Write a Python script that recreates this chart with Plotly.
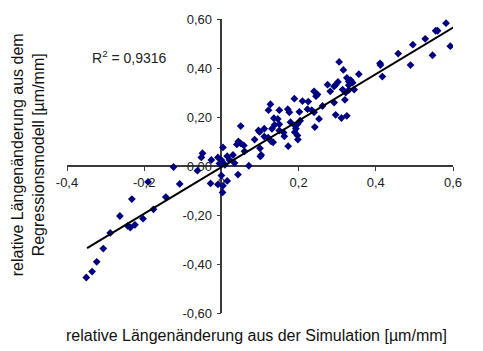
import plotly.graph_objects as go

# Simulation (x) vs. regression model (y), relative length change [µm/mm]
sim_x = [
    -0.350, -0.335, -0.323, -0.306, -0.288, -0.263, -0.243, -0.236, -0.224, -0.232,
    -0.203, -0.190, -0.176, -0.144, -0.124, -0.108,
    -0.062, -0.052, -0.049, -0.028, -0.026, -0.009, -0.009, -0.005, 0.000, 0.000,
    0.003, 0.003, 0.004, 0.004, 0.009, 0.015, 0.015, 0.021, 0.030, 0.034,
    0.040, 0.043, 0.044, 0.050, 0.050, 0.058, 0.060, 0.071, 0.086, 0.096,
    0.100, 0.101, 0.103, 0.099, 0.111, 0.111, 0.121, 0.122, 0.127, 0.129,
    0.131, 0.134, 0.136, 0.138, 0.146, 0.150, 0.150, 0.150, 0.161, 0.163,
    0.172, 0.173, 0.176, 0.179, 0.189, 0.190, 0.190, 0.193, 0.197, 0.198,
    0.198, 0.202, 0.204, 0.210, 0.223, 0.225, 0.234, 0.240, 0.240, 0.242,
    0.245, 0.249, 0.253, 0.262, 0.275, 0.282, 0.292, 0.292, 0.296, 0.296,
    0.302, 0.305, 0.311, 0.314, 0.316, 0.320, 0.322, 0.325, 0.325, 0.330,
    0.330, 0.330, 0.335, 0.340, 0.344, 0.356, 0.411, 0.412, 0.417, 0.458,
    0.490, 0.496, 0.528, 0.547, 0.555, 0.560, 0.582, 0.593,
]
model_y = [
    -0.455, -0.431, -0.391, -0.337, -0.273, -0.204, -0.244, -0.251, -0.240, -0.135,
    -0.215, -0.065, -0.177, -0.127, -0.004, -0.073,
    -0.019, 0.035, 0.052, -0.071, 0.025, 0.035, -0.075, 0.010, 0.024, -0.039,
    0.015, -0.108, 0.076, -0.081, 0.005, 0.040, -0.061, 0.025, 0.045, 0.012,
    0.088, -0.035, 0.100, 0.092, 0.163, 0.084, 0.060, 0.001, 0.108, 0.145,
    0.072, 0.039, 0.045, 0.139, 0.152, 0.120, 0.116, 0.228, 0.252, 0.101,
    0.152, 0.097, 0.195, 0.168, 0.192, 0.228, 0.170, 0.145, 0.137, 0.121,
    0.232, 0.081, 0.219, 0.179, 0.275, 0.165, 0.138, 0.152, 0.125, 0.172,
    0.108, 0.221, 0.185, 0.265, 0.232, 0.263, 0.228, 0.219, 0.305, 0.159,
    0.285, 0.292, 0.192, 0.245, 0.332, 0.305, 0.325, 0.259, 0.332, 0.209,
    0.343, 0.425, 0.196, 0.312, 0.392, 0.270, 0.300, 0.360, 0.205, 0.345,
    0.330, 0.310, 0.350, 0.340, 0.312, 0.375, 0.419, 0.412, 0.365, 0.459,
    0.412, 0.495, 0.519, 0.452, 0.552, 0.552, 0.583, 0.489,
]

# Linear trend line
trend_x = [-0.348, 0.603]
trend_slope = 0.95
trend_intercept = -0.005
trend_y = [trend_slope * v + trend_intercept for v in trend_x]
r2_text = "R<sup>2</sup> = 0,9316"

x_tickvals = [-0.4, -0.2, 0, 0.2, 0.4, 0.6]
x_ticktext = ["-0,4", "-0,2", "0", "0,2", "0,4", "0,6"]
y_tickvals = [-0.6, -0.4, -0.2, 0, 0.2, 0.4, 0.6]
y_ticktext = ["-0,60", "-0,40", "-0,20", "0,00", "0,20", "0,40", "0,60"]

x_title = "relative Längenänderung aus der Simulation [µm/mm]"
y_title = "relative Längenänderung aus dem<br>Regressionsmodell [µm/mm]"

FONT = "Liberation Sans, Arial, sans-serif"
AXIS_COLOR = "#3a3a3a"

fig = go.Figure()
fig.add_trace(go.Scatter(
    x=sim_x, y=model_y, mode="markers",
    marker=dict(symbol="diamond", size=6, color="#000080", line=dict(width=0)),
    showlegend=False, hoverinfo="skip",
))
fig.add_trace(go.Scatter(
    x=trend_x, y=trend_y, mode="lines",
    line=dict(color="black", width=2),
    showlegend=False, hoverinfo="skip",
))

fig.update_layout(
    width=483, height=351,
    margin=dict(l=67, r=30, t=13, b=38),
    paper_bgcolor="white", plot_bgcolor="white",
    font=dict(family=FONT, color="#222222", size=13),
    xaxis=dict(
        range=[-0.4, 0.6], anchor="free", position=0.5,
        showgrid=False, zeroline=False,
        showline=True, linecolor=AXIS_COLOR, linewidth=1.5,
        ticks="outside", ticklen=4, tickwidth=1.2, tickcolor=AXIS_COLOR,
        tickvals=x_tickvals, ticktext=x_ticktext,
        tickfont=dict(size=13, family=FONT, color="#222222"),
        ticklabelstandoff=1,
        layer="below traces",
    ),
    yaxis=dict(
        range=[-0.6, 0.6], anchor="free", position=0.4,
        showgrid=False, zeroline=False,
        showline=True, linecolor=AXIS_COLOR, linewidth=1.5,
        ticks="outside", ticklen=4, tickwidth=1.2, tickcolor=AXIS_COLOR,
        tickvals=y_tickvals, ticktext=y_ticktext,
        tickfont=dict(size=13, family=FONT, color="#222222"),
        ticklabelstandoff=2,
        layer="below traces",
    ),
    annotations=[
        dict(text=r2_text, xref="paper", yref="paper", x=(129 - 67) / 386, y=(313 - 52) / 300,
             showarrow=False, xanchor="center", yanchor="middle",
             font=dict(size=14, family=FONT, color="#222222")),
        dict(text=x_title, xref="paper", yref="paper", x=(256 - 67) / 386, y=(313 - 336) / 300,
             showarrow=False, xanchor="center", yanchor="middle",
             font=dict(size=16, family=FONT, color="#111111")),
        dict(text=y_title, xref="paper", yref="paper", x=(28 - 67) / 386, y=(313 - 152) / 300,
             showarrow=False, xanchor="center", yanchor="middle", textangle=-90,
             font=dict(size=16, family=FONT, color="#111111")),
    ],
)

fig.write_html("out.html")
